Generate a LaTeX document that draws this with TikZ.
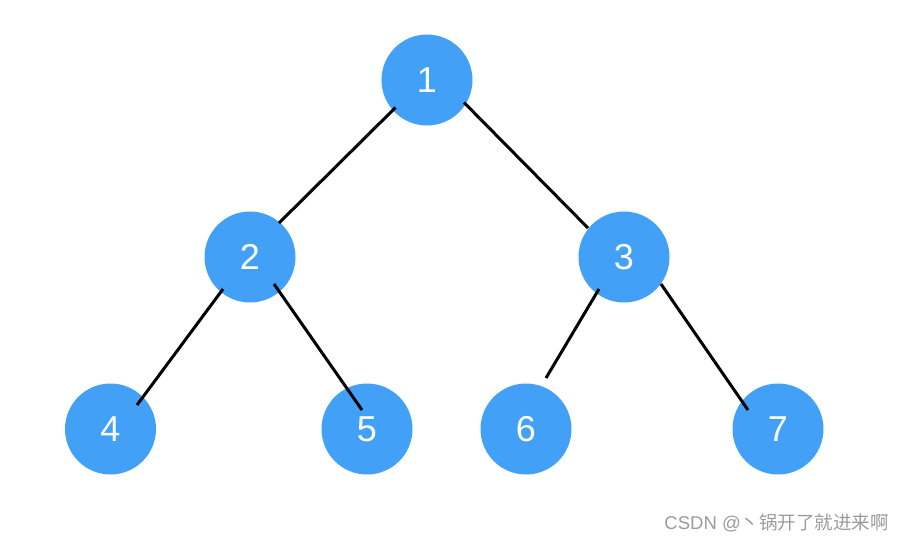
\documentclass[tikz,border=0pt]{standalone}
\usepackage{fontspec}
\setmainfont{Liberation Sans}
\newfontfamily\cjk{Noto Sans CJK SC}
\definecolor{nodeblue}{RGB}{66,161,247}
\definecolor{wmgray}{RGB}{155,155,155}
\tikzset{
  tnode/.style={circle, fill=nodeblue, minimum size=91pt, inner sep=0pt, text=white, font=\fontsize{36}{36}\selectfont},
  edge/.style={line width=3pt, black}
}
\begin{document}
\begin{tikzpicture}[x=1pt,y=-1pt]
\useasboundingbox (0,0) rectangle (906,542);
\node[tnode] (n1) at (427,80) {1};
\node[tnode] (n2) at (250,257) {2};
\node[tnode] (n3) at (624,257) {3};
\node[tnode] (n4) at (110.5,429) {4};
\node[tnode] (n5) at (367,429) {5};
\node[tnode] (n6) at (526,429) {6};
\node[tnode] (n7) at (778,429) {7};
\draw[edge] ([shift={(-31.5,27.5)}]n1.center) -- ([shift={(29,-34)}]n2.center);
\draw[edge] ([shift={(37,22.5)}]n1.center) -- ([shift={(-36,-29)}]n3.center);
\draw[edge] ([shift={(-27,32)}]n2.center) -- ([shift={(26.5,-24)}]n4.center);
\draw[edge] ([shift={(24,27)}]n2.center) -- ([shift={(-5,-19)}]n5.center);
\draw[edge] ([shift={(-25,32)}]n3.center) -- ([shift={(20,-51)}]n6.center);
\draw[edge] ([shift={(37,27)}]n3.center) -- ([shift={(-30,-19)}]n7.center);
\node[anchor=base east, text=wmgray, font=\fontsize{18.5}{18.5}\selectfont, inner sep=0pt] (wm) at (889,529) {CSDN @{\cjk 丶锅开了就进来啊}};
\end{tikzpicture}
\end{document}
